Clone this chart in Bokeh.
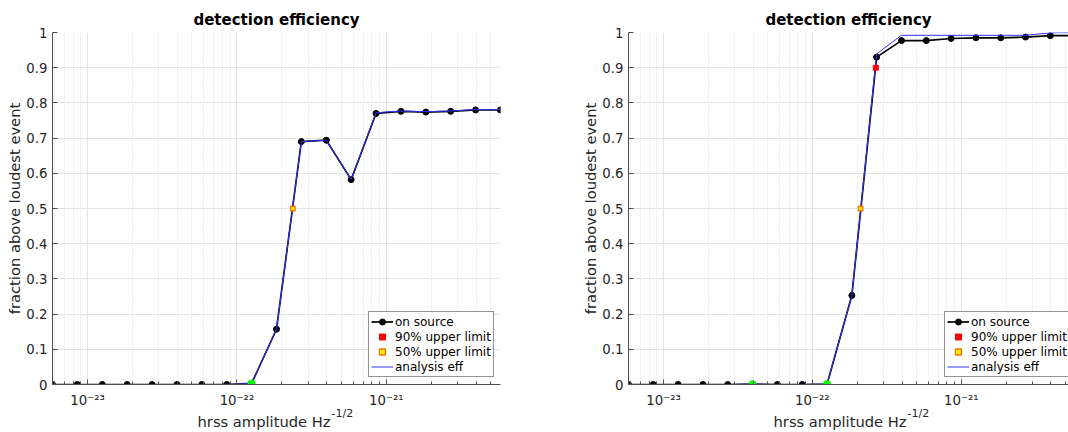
from bokeh.plotting import figure
from bokeh.models import (ColumnDataSource, FixedTicker, CustomJSTickFormatter,
                          Legend, LegendItem, Label, Range1d)
from bokeh.layouts import row
from bokeh.embed import file_html
from bokeh.resources import INLINE

NAN = float("nan")

# injected strain amplitudes (hrss, Hz^-1/2)
hrss = [5.82e-24, 8.54e-24, 1.254e-23, 1.841e-23, 2.70e-23, 3.966e-23, 5.82e-23,
        8.54e-23, 1.254e-22, 1.841e-22, 2.70e-22, 3.966e-22, 5.82e-22, 8.54e-22,
        1.254e-21, 1.841e-21, 2.70e-21, 3.966e-21, 5.82e-21]

# left panel
left_onsource = [0, 0, 0, 0, 0, 0, 0, 0, 0.003, 0.157, 0.690, 0.694, 0.582,
                 0.770, 0.776, 0.774, 0.776, 0.780, 0.780]
left_analysis = [0, 0, 0, 0, 0, 0, 0, 0, 0.003, 0.157, 0.690, 0.694, 0.583,
                 0.772, 0.777, 0.775, 0.777, 0.781, 0.781]
left_flagged = [8]
left_ul90_x, left_ul90_y = [NAN], [NAN]   # 90% level never reached
left_ul50_x, left_ul50_y = [2.37e-22], [0.5]

# right panel
right_onsource = [0, 0, 0, 0, 0, 0.001, 0, 0, 0.001, 0.253, 0.930, 0.977, 0.977,
                  0.983, 0.985, 0.985, 0.987, 0.991, 0.991]
right_analysis = [0, 0, 0, 0, 0, 0.001, 0, 0, 0.001, 0.253, 0.939, 0.992, 0.992,
                  0.992, 0.992, 0.992, 0.992, 0.999, 1.0]
right_flagged = [5, 8]
right_ul90_x, right_ul90_y = [2.667e-22], [0.9]
right_ul50_x, right_ul50_y = [2.109e-22], [0.5]

y_ticks = [0, 0.1, 0.2, 0.3, 0.4, 0.5, 0.6, 0.7, 0.8, 0.9, 1.0]
x_ticks = [1e-23, 1e-22, 1e-21]
x_minor = [k * 10.0 ** e for e in (-24, -23, -22, -21) for k in range(2, 10)]

FONT = "DejaVu Sans"
TXT = "#262626"
AXC = "#4d4d4d"

X_FMT = CustomJSTickFormatter(code="""
const e = Math.round(Math.log10(tick));
const sup = {"-": "\\u207b", "0": "\\u2070", "1": "\\u00b9", "2": "\\u00b2", "3": "\\u00b3",
             "4": "\\u2074", "5": "\\u2075", "6": "\\u2076", "7": "\\u2077", "8": "\\u2078", "9": "\\u2079"};
return "10" + String(e).split("").map(c => sup[c]).join("");
""")
Y_FMT = CustomJSTickFormatter(code="return (Math.round(tick * 10) / 10).toString();")


def panel(onsrc, anal, flagged, u90x, u90y, u50x, u50y, x_end, width, bl, br,
          sup_side):
    p = figure(width=width, height=432, x_axis_type="log",
               x_range=Range1d(hrss[0], x_end), y_range=Range1d(0, 1),
               output_backend="svg", toolbar_location=None,
               min_border_left=bl, min_border_right=br,
               min_border_top=32, min_border_bottom=48,
               title="detection efficiency")
    p.outline_line_color = None
    p.background_fill_color = "white"
    p.border_fill_color = "white"

    p.title.align = "center"
    p.title.text_font = FONT
    p.title.text_font_size = "15px"
    p.title.text_font_style = "bold"
    p.title.text_color = "black"
    p.title.standoff = 7

    xa = p.xaxis[0]
    xa.ticker = FixedTicker(ticks=x_ticks, minor_ticks=x_minor)
    xa.formatter = X_FMT
    ya = p.yaxis[0]
    ya.ticker = FixedTicker(ticks=y_ticks)
    ya.formatter = Y_FMT
    ya.axis_label = "fraction above loudest event"
    ya.axis_label_standoff = 0
    for ax in (xa, ya):
        ax.axis_line_color = AXC
        ax.major_tick_line_color = AXC
        ax.minor_tick_line_color = AXC
        ax.major_tick_in = 5
        ax.major_tick_out = 0
        ax.minor_tick_in = 3
        ax.minor_tick_out = 0
        ax.major_label_text_font = FONT
        ax.major_label_text_font_size = "13.3px"
        ax.major_label_text_color = TXT
        ax.axis_label_text_font = FONT
        ax.axis_label_text_font_size = "14.7px"
        ax.axis_label_text_font_style = "normal"
        ax.axis_label_text_color = TXT
    ya.minor_tick_line_color = None
    xa.major_label_standoff = 8
    ya.major_label_standoff = 5

    p.xgrid.grid_line_color = "#e3e3e3"
    p.xgrid.minor_grid_line_color = "#d6d6d6"
    p.xgrid.minor_grid_line_dash = "1 2"
    p.ygrid.grid_line_color = "#e3e3e3"

    # x-axis title "hrss amplitude Hz^-1/2", anchored to the frame's lower-left corner
    x0 = p.x_range.start
    p.add_layout(Label(x=x0, y=0, x_offset=278, y_offset=-37,
                       text="hrss amplitude Hz", text_align="right",
                       text_baseline="alphabetic", text_font=FONT,
                       text_font_size="14.7px", text_color=TXT), "below")
    p.add_layout(Label(x=x0, y=0, x_offset=279, y_offset=-29,
                       text="-1/2", text_align="left",
                       text_baseline="alphabetic", text_font=FONT,
                       text_font_size="11px", text_color=TXT), sup_side)

    src = ColumnDataSource(dict(x=hrss, on=onsrc, an=anal))
    fsrc = ColumnDataSource(dict(x=[hrss[i] for i in flagged],
                                 y=[onsrc[i] for i in flagged]))

    r_line = p.line("x", "on", source=src, line_color="black", line_width=1.7)
    r_dots = p.scatter("x", "on", source=src, marker="circle", size=6,
                       fill_color="black", line_color="black")
    r_an = p.line("x", "an", source=src, line_color="#3030ff", line_width=1.0)
    p.scatter("x", "y", source=fsrc, marker="circle", size=7,
              fill_color="#00ff00", line_color="#00ff00")
    r90 = p.scatter(u90x, u90y, marker="square", size=5,
                    fill_color="#ff0000", line_color="#ff0000")
    r50 = p.scatter(u50x, u50y, marker="square", size=4.5,
                    fill_color="#ffee00", line_color="#ff7000", line_width=1.3)

    legend = Legend(items=[
        LegendItem(label="on source", renderers=[r_line, r_dots]),
        LegendItem(label="90% upper limit", renderers=[r90]),
        LegendItem(label="50% upper limit", renderers=[r50]),
        LegendItem(label="analysis eff", renderers=[r_an]),
    ], location=(316, 7))
    legend.label_text_font = FONT
    legend.label_text_font_size = "12px"
    legend.label_text_color = "black"
    legend.glyph_width = 22
    legend.glyph_height = 15
    legend.label_height = 15
    legend.label_standoff = 2
    legend.spacing = 0
    legend.padding = 2
    legend.margin = 0
    legend.border_line_color = "#262626"
    legend.border_line_width = 1
    legend.background_fill_color = "white"
    legend.background_fill_alpha = 1.0
    p.add_layout(legend)
    return p


left = panel(left_onsource, left_analysis, left_flagged,
             left_ul90_x, left_ul90_y, left_ul50_x, left_ul50_y,
             hrss[-1], 534, 52, 34, "right")
right = panel(right_onsource, right_analysis, right_flagged,
              right_ul90_x, right_ul90_y, right_ul50_x, right_ul50_y,
              5.25e-21, 534, 94, 0, "left")

layout = row(left, right, spacing=0)
open("out.html", "w", encoding="utf-8").write(file_html(layout, INLINE))
